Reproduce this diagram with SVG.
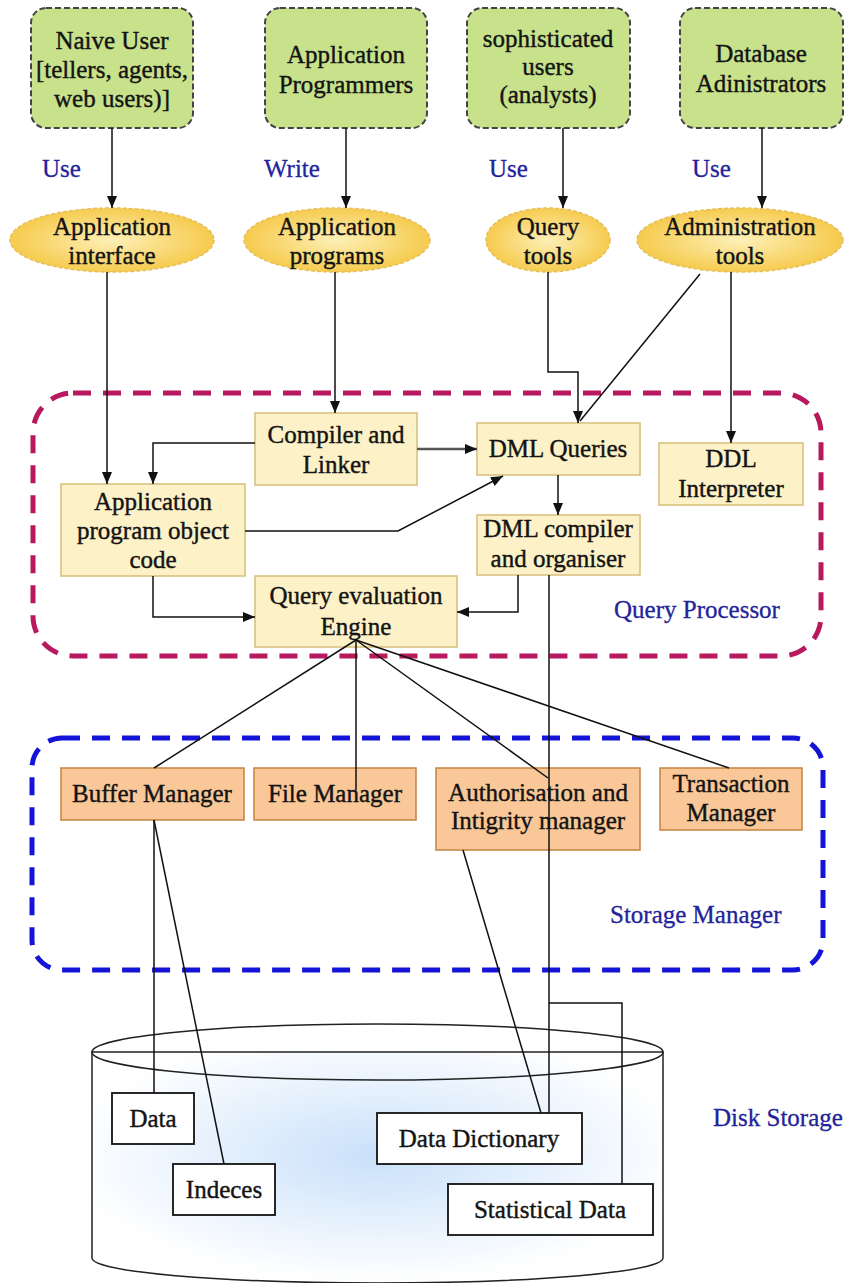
<svg xmlns="http://www.w3.org/2000/svg" width="850" height="1283" viewBox="0 0 850 1283">
<style>
.t{font-family:'Liberation Serif','Times New Roman',serif;font-size:25px;font-weight:normal;fill:#141414;text-anchor:middle;stroke:#141414;stroke-width:0.4}
.b{font-family:'Liberation Serif','Times New Roman',serif;font-size:25px;font-weight:normal;fill:#23239a;stroke:#23239a;stroke-width:0.3}
.user{fill:#c8e28c;stroke:#444;stroke-width:2;stroke-dasharray:6 3}
.tool{fill:url(#eg);stroke:#e6bf5a;stroke-width:1.5;stroke-dasharray:4 2}
.qp{fill:#fdf1c8;stroke:#d6bd78;stroke-width:1.5}
.sm{fill:#fac898;stroke:#c4823e;stroke-width:1.5}
.ds{fill:#fff;stroke:#111;stroke-width:1.8}
.c{fill:none;stroke:#111;stroke-width:1.5}
.a{marker-end:url(#ah)}
</style>
<defs>
<marker id="ah" markerUnits="userSpaceOnUse" markerWidth="12" markerHeight="10" refX="12" refY="5" orient="auto">
<path d="M0,0 L12,5 L0,10 z" fill="#111"/>
</marker>
<radialGradient id="eg" cx="50%" cy="50%" r="50%">
<stop offset="0" stop-color="#fdf0b8"/>
<stop offset="1" stop-color="#f6cb4e"/>
</radialGradient>
<radialGradient id="cg" cx="50%" cy="45%" r="55%">
<stop offset="0" stop-color="#c9e0fa"/>
<stop offset="0.6" stop-color="#eaf3fd"/>
<stop offset="1" stop-color="#ffffff"/>
</radialGradient>
</defs>

<!-- containers -->
<g id="query-processor">
<rect x="33" y="393" width="788" height="263" rx="40" fill="none" stroke="#b8185e" stroke-width="5" stroke-dasharray="18 12"/>
<text class="b" x="614" y="618">Query Processor</text>
</g>
<g id="storage-manager">
<rect x="32" y="738" width="791" height="232" rx="30" fill="none" stroke="#1414d8" stroke-width="5" stroke-dasharray="18 12"/>
<text class="b" x="610" y="923">Storage Manager</text>
</g>
<g id="disk-storage">
<path d="M92,1052 L92,1258 A285.5,25 0 0 0 663,1258 L663,1052 Z" fill="url(#cg)" stroke="#222" stroke-width="1.5"/>
<ellipse cx="377.5" cy="1052" rx="285.5" ry="28" fill="none" stroke="#222" stroke-width="1.5"/>
<text class="b" x="713" y="1126">Disk Storage</text>
</g>

<!-- users -->
<g id="naive-user">
<rect class="user" x="31" y="8" width="162" height="120" rx="15"/>
<text class="t" x="112" y="49">Naive User</text>
<text class="t" x="112" y="78">[tellers, agents,</text>
<text class="t" x="112" y="107">web users)]</text>
</g>
<g id="app-programmers">
<rect class="user" x="265" y="8" width="162" height="120" rx="15"/>
<text class="t" x="346" y="63">Application</text>
<text class="t" x="346" y="93">Programmers</text>
</g>
<g id="sophisticated-users">
<rect class="user" x="467" y="8" width="163" height="120" rx="15"/>
<text class="t" x="548" y="47">sophisticated</text>
<text class="t" x="548" y="75">users</text>
<text class="t" x="548" y="103">(analysts)</text>
</g>
<g id="db-admins">
<rect class="user" x="680" y="8" width="163" height="120" rx="15"/>
<text class="t" x="761" y="62">Database</text>
<text class="t" x="761" y="92">Adinistrators</text>
</g>

<!-- edge labels -->
<g id="labels">
<text class="b" x="42" y="177">Use</text>
<text class="b" x="264" y="177">Write</text>
<text class="b" x="489" y="177">Use</text>
<text class="b" x="692" y="177">Use</text>
</g>

<!-- tools -->
<g id="application-interface">
<ellipse class="tool" cx="112" cy="240" rx="102" ry="32"/>
<text class="t" x="112" y="235">Application</text>
<text class="t" x="112" y="264">interface</text>
</g>
<g id="application-programs">
<ellipse class="tool" cx="337" cy="240" rx="93" ry="32"/>
<text class="t" x="337" y="235">Application</text>
<text class="t" x="337" y="264">programs</text>
</g>
<g id="query-tools">
<ellipse class="tool" cx="548" cy="240" rx="62" ry="32"/>
<text class="t" x="548" y="235">Query</text>
<text class="t" x="548" y="264">tools</text>
</g>
<g id="administration-tools">
<ellipse class="tool" cx="740" cy="240" rx="103" ry="32"/>
<text class="t" x="740" y="235">Administration</text>
<text class="t" x="740" y="264">tools</text>
</g>

<!-- query processor nodes -->
<g id="compiler-linker">
<rect class="qp" x="255" y="413" width="162" height="72"/>
<text class="t" x="336" y="443">Compiler and</text>
<text class="t" x="336" y="473">Linker</text>
</g>
<g id="app-object-code">
<rect class="qp" x="61" y="484" width="184" height="92"/>
<text class="t" x="153" y="510">Application</text>
<text class="t" x="153" y="539">program object</text>
<text class="t" x="153" y="568">code</text>
</g>
<g id="query-eval-engine">
<rect class="qp" x="255" y="576" width="202" height="71"/>
<text class="t" x="356" y="604">Query evaluation</text>
<text class="t" x="356" y="635">Engine</text>
</g>
<g id="dml-queries">
<rect class="qp" x="477" y="423" width="163" height="52"/>
<text class="t" x="558" y="457">DML Queries</text>
</g>
<g id="ddl-interpreter">
<rect class="qp" x="659" y="443" width="144" height="62"/>
<text class="t" x="731" y="467">DDL</text>
<text class="t" x="731" y="497">Interpreter</text>
</g>
<g id="dml-compiler">
<rect class="qp" x="477" y="515" width="163" height="60"/>
<text class="t" x="558" y="537">DML compiler</text>
<text class="t" x="558" y="567">and organiser</text>
</g>

<!-- storage manager nodes -->
<g id="buffer-manager">
<rect class="sm" x="61" y="768" width="183" height="52"/>
<text class="t" x="152" y="802">Buffer Manager</text>
</g>
<g id="file-manager">
<rect class="sm" x="254" y="768" width="162" height="52"/>
<text class="t" x="335" y="802">File Manager</text>
</g>
<g id="auth-integrity-manager">
<rect class="sm" x="436" y="768" width="204" height="82"/>
<text class="t" x="538" y="801">Authorisation and</text>
<text class="t" x="538" y="829">Intigrity manager</text>
</g>
<g id="transaction-manager">
<rect class="sm" x="660" y="768" width="142" height="62"/>
<text class="t" x="731" y="792">Transaction</text>
<text class="t" x="731" y="821">Manager</text>
</g>

<!-- disk nodes -->
<g id="data">
<rect class="ds" x="112" y="1093" width="82" height="51"/>
<text class="t" x="153" y="1127">Data</text>
</g>
<g id="indices">
<rect class="ds" x="173" y="1164" width="102" height="51"/>
<text class="t" x="224" y="1198">Indeces</text>
</g>
<g id="data-dictionary">
<rect class="ds" x="377" y="1113" width="205" height="51"/>
<text class="t" x="479" y="1147">Data Dictionary</text>
</g>
<g id="statistical-data">
<rect class="ds" x="448" y="1184" width="205" height="51"/>
<text class="t" x="550" y="1218">Statistical Data</text>
</g>

<!-- connectors -->
<g id="connectors">
<line class="c a" x1="112" y1="128" x2="112" y2="208"/>
<line class="c a" x1="346" y1="128" x2="346" y2="208"/>
<line class="c a" x1="563" y1="128" x2="563" y2="208"/>
<line class="c a" x1="762" y1="128" x2="762" y2="208"/>

<line class="c a" x1="107" y1="272" x2="107" y2="484"/>
<line class="c a" x1="335" y1="272" x2="335" y2="413"/>
<polyline class="c a" points="255,443 153,443 153,484"/>
<line class="c a" x1="417" y1="449" x2="477" y2="449" style="stroke:#555;stroke-width:2.5"/>
<polyline class="c a" points="245,531 398,531 503,476"/>
<polyline class="c a" points="153,576 153,617 255,617"/>
<polyline class="c a" points="548,272 548,372 578,372 578,423"/>
<line class="c" x1="700" y1="274" x2="580" y2="421"/>
<line class="c a" x1="731" y1="272" x2="731" y2="443"/>
<line class="c a" x1="558" y1="475" x2="558" y2="515"/>
<polyline class="c a" points="518,575 518,612 457,612"/>
<line class="c" x1="549" y1="575" x2="549" y2="1113"/>
<polyline class="c" points="549,1003 622,1003 622,1184"/>

<line class="c" x1="356" y1="640" x2="154" y2="768"/>
<line class="c" x1="356" y1="640" x2="356" y2="790"/>
<line class="c" x1="356" y1="640" x2="548" y2="778"/>
<line class="c" x1="356" y1="640" x2="729" y2="768"/>

<line class="c" x1="154" y1="820" x2="154" y2="1093"/>
<line class="c" x1="154" y1="820" x2="224" y2="1164"/>
<line class="c" x1="463" y1="850" x2="541" y2="1113"/>
</g>
</svg>
